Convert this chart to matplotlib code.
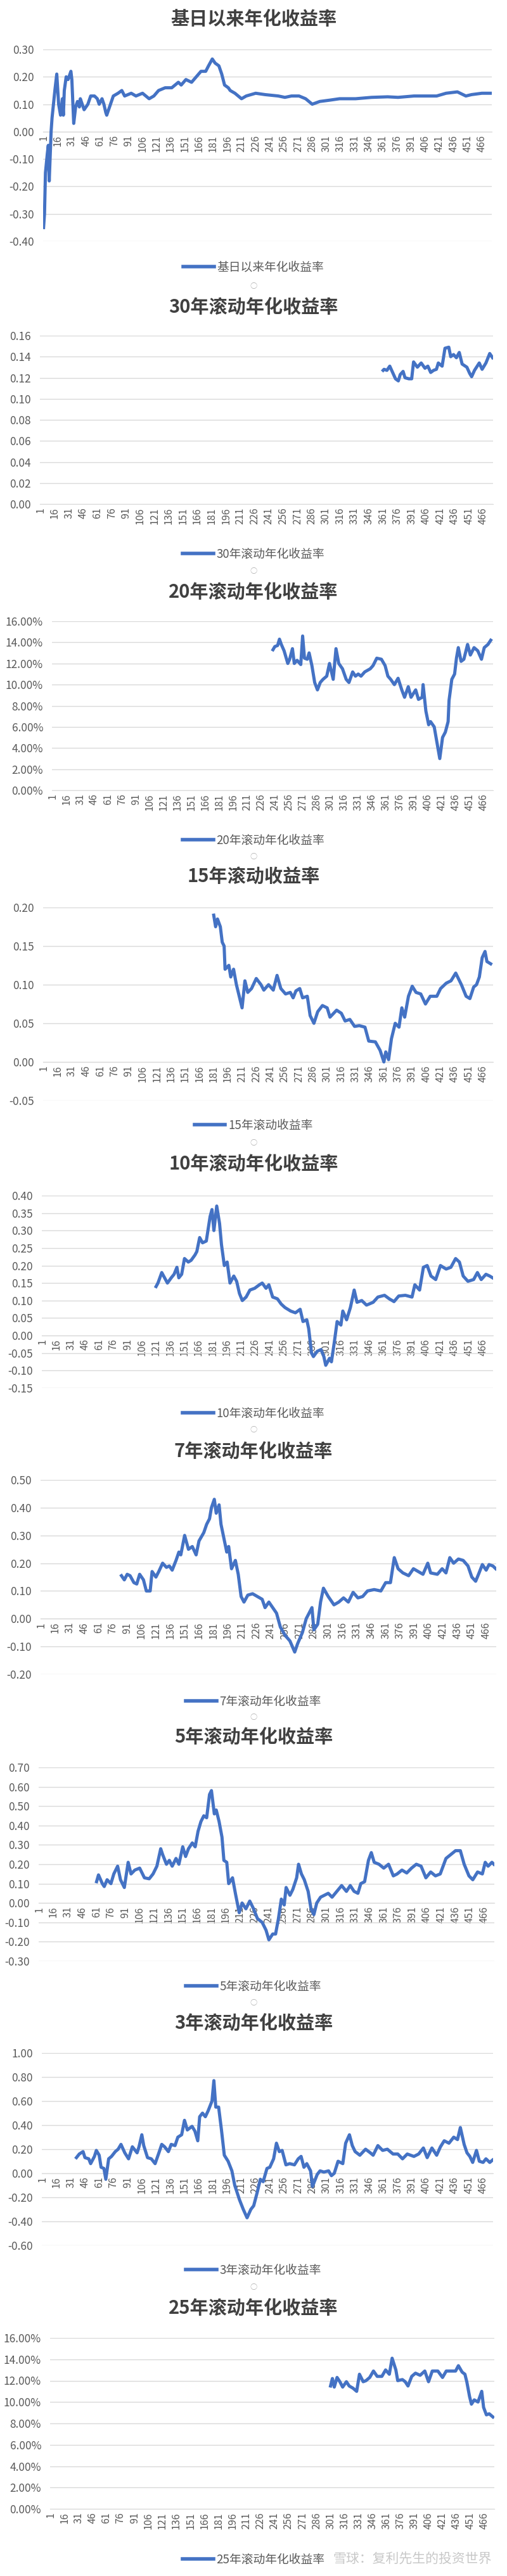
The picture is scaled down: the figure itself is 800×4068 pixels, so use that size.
import matplotlib
matplotlib.use('Agg')
import matplotlib.pyplot as plt
from matplotlib.ticker import FuncFormatter
from matplotlib.lines import Line2D

plt.rcParams['font.family'] = ['Noto Sans CJK SC', 'DejaVu Sans']

W, H = 800, 4068
N = 476
BLUE = '#4472C4'
GRID = '#D9D9D9'
TXT = '#595959'

# 基日以来年化收益率
since_idx = [1,2,3,5,6,7,9,10,13,15,17,19,21,22,23,25,27,30,31,33,35,37,39,40,42,44,48,51,55,58,
             60,63,65,67,68,72,75,80,84,87,94,99,106,113,118,123,130,137,144,147,152,158,163,168,173,176,180,183,187,190,
             193,197,199,204,211,216,226,236,250,257,264,272,279,286,294,305,315,332,349,366,377,394,408,418,428,440,449,455,466,475]
since_val = [-0.35,-0.30,-0.15,-0.08,-0.05,-0.18,0.00,0.05,0.15,0.21,0.10,0.06,0.12,0.06,0.15,0.20,0.19,0.22,0.19,0.03,
             0.09,0.11,0.09,0.12,0.10,0.08,0.10,0.13,0.13,0.12,0.10,0.12,0.10,0.07,0.06,0.10,0.13,0.14,0.15,0.13,
             0.14,0.13,0.14,0.12,0.13,0.15,0.16,0.16,0.18,0.17,0.19,0.18,0.20,0.22,0.22,0.24,0.265,0.25,0.24,0.21,
             0.17,0.16,0.15,0.14,0.12,0.13,0.14,0.135,0.13,0.125,0.13,0.13,0.12,0.10,0.11,0.115,0.12,0.12,0.125,0.127,
             0.125,0.13,0.13,0.13,0.14,0.145,0.13,0.135,0.14,0.14]

# 30年
y30_idx = [361,362,365,368,371,374,377,379,382,384,388,391,393,397,401,405,408,411,414,417,
           419,423,426,430,432,435,438,441,444,449,452,454,457,462,465,469,473,476]
y30_val = [0.127,0.128,0.127,0.131,0.125,0.119,0.117,0.123,0.126,0.120,0.119,0.119,0.135,0.130,0.134,0.129,0.131,0.125,0.127,0.128,
           0.134,0.131,0.148,0.149,0.140,0.142,0.139,0.144,0.133,0.130,0.124,0.121,0.127,0.134,0.128,0.134,0.143,0.139]

# 20年 (%)
y20_idx = [239,241,244,246,248,251,255,257,260,262,265,269,271,273,276,278,281,284,287,290,
           293,297,300,304,307,310,314,318,321,325,328,331,334,338,344,347,351,356,360,363,
           366,370,374,378,381,385,388,393,396,400,401,404,407,409,413,416,419,422,425,428,
           429,432,435,437,439,442,445,449,452,456,460,464,467,471,474]
y20_val = [13.3,13.6,13.7,14.3,13.8,13.2,12.0,12.4,13.4,12.0,12.3,11.9,14.6,12.5,12.4,13.0,11.8,10.2,9.5,10.2,
           10.5,10.8,12.0,10.5,13.4,12.0,11.5,10.5,10.2,11.2,10.8,11.0,10.8,11.2,11.5,11.8,12.5,12.4,11.8,10.8,
           10.5,10.0,10.6,9.5,8.8,9.8,8.8,9.5,8.6,8.8,10.0,7.5,6.2,6.5,6.0,4.5,3.0,5.0,5.5,6.5,
           8.5,10.5,11.0,12.5,13.5,12.2,12.4,13.8,12.8,13.5,13.2,12.4,13.5,13.8,14.2]

# 15年
y15_idx = [181,183,185,188,190,192,193,197,199,202,205,208,211,214,217,221,226,231,234,239,
           244,248,252,257,262,265,268,272,275,280,283,287,291,296,301,304,311,316,320,325,
           330,335,341,345,352,357,361,363,366,369,373,377,380,383,387,391,395,400,405,410,
           417,421,427,432,437,443,448,452,456,459,462,465,468,470,474]
y15_val = [0.19,0.175,0.185,0.175,0.155,0.15,0.12,0.125,0.11,0.12,0.10,0.085,0.07,0.105,0.09,0.095,0.108,0.10,0.093,0.10,
           0.093,0.112,0.095,0.088,0.09,0.083,0.092,0.095,0.083,0.085,0.06,0.05,0.065,0.073,0.07,0.058,0.067,0.063,0.053,0.055,
           0.046,0.047,0.045,0.027,0.026,0.015,0.0,0.013,0.003,0.03,0.05,0.045,0.07,0.058,0.085,0.098,0.09,0.088,0.075,0.085,
           0.085,0.095,0.102,0.105,0.115,0.10,0.085,0.082,0.097,0.10,0.11,0.135,0.143,0.13,0.127]

# 10年
y10_idx = [121,123,127,130,133,137,140,143,145,148,151,155,158,162,164,167,170,174,178,180,
           182,185,188,190,193,196,199,203,206,209,212,216,220,225,230,233,237,240,244,249,
           253,257,263,268,273,276,280,282,285,287,291,295,298,300,304,306,309,312,316,318,
           322,326,330,333,338,343,350,355,362,367,372,377,384,391,394,399,403,407,411,416,
           421,427,432,437,441,445,450,456,460,464,469,473,476]
y10_val = [0.14,0.15,0.18,0.165,0.15,0.165,0.175,0.195,0.165,0.175,0.22,0.21,0.215,0.23,0.24,0.28,0.265,0.27,0.34,0.36,
           0.30,0.37,0.32,0.26,0.20,0.21,0.15,0.17,0.155,0.12,0.10,0.11,0.13,0.135,0.145,0.15,0.135,0.145,0.11,0.105,
           0.09,0.08,0.07,0.065,0.075,0.04,0.045,0.02,-0.05,-0.06,-0.045,-0.04,-0.06,-0.085,-0.065,-0.075,-0.02,0.04,0.03,0.07,
           0.045,0.08,0.13,0.095,0.10,0.087,0.095,0.11,0.115,0.105,0.097,0.113,0.115,0.11,0.145,0.13,0.195,0.20,0.17,0.16,
           0.20,0.19,0.195,0.22,0.21,0.17,0.155,0.16,0.18,0.16,0.175,0.17,0.165]

# 7年
y7_idx = [85,88,91,94,98,101,104,108,111,115,117,121,124,128,132,135,138,142,145,147,
          151,155,159,163,166,171,174,177,179,182,184,187,189,192,195,197,200,204,207,210,
          213,217,222,227,232,235,239,244,247,251,256,261,266,269,274,278,281,284,286,290,
          293,296,301,307,312,317,322,327,332,337,342,349,356,361,366,370,374,379,385,390,
          395,400,405,408,415,420,424,428,432,437,442,447,451,455,458,462,466,469,473,476]
y7_val = [0.155,0.14,0.16,0.155,0.13,0.125,0.16,0.14,0.10,0.10,0.17,0.15,0.17,0.20,0.185,0.19,0.175,0.21,0.24,0.23,
          0.30,0.25,0.26,0.23,0.28,0.31,0.34,0.36,0.40,0.43,0.38,0.41,0.34,0.29,0.24,0.26,0.18,0.21,0.16,0.08,
          0.06,0.085,0.09,0.08,0.07,0.04,0.06,0.035,0.02,-0.03,-0.06,-0.08,-0.12,-0.09,-0.05,0.0,0.02,0.04,-0.04,-0.02,
          0.06,0.11,0.08,0.05,0.06,0.075,0.06,0.095,0.075,0.08,0.10,0.105,0.10,0.13,0.13,0.22,0.18,0.165,0.155,0.18,
          0.17,0.16,0.20,0.165,0.16,0.18,0.165,0.22,0.20,0.215,0.21,0.19,0.15,0.135,0.16,0.195,0.175,0.195,0.19,0.18]

# 5年
y5_idx = [61,63,67,69,72,76,79,83,86,90,94,97,101,106,111,116,120,124,128,130,
          134,137,140,144,147,151,154,157,161,164,167,170,173,176,179,181,184,186,189,192,
          194,197,199,203,206,210,213,217,221,225,229,234,238,241,245,248,251,254,257,259,
          263,266,270,272,275,278,282,285,288,291,295,299,303,307,312,317,322,326,330,334,
          337,341,345,348,351,356,361,366,371,375,380,385,390,395,400,405,410,415,420,426,
          431,436,441,445,450,454,459,464,467,470,474,476]
y5_val = [0.11,0.145,0.10,0.085,0.12,0.10,0.15,0.19,0.12,0.08,0.21,0.15,0.17,0.18,0.13,0.125,0.15,0.19,0.28,0.25,
          0.20,0.22,0.19,0.23,0.20,0.29,0.24,0.28,0.31,0.29,0.37,0.42,0.45,0.44,0.56,0.58,0.46,0.48,0.42,0.34,
          0.22,0.21,0.10,0.13,0.05,-0.05,0.0,-0.03,0.01,-0.03,-0.08,-0.10,-0.14,-0.19,-0.16,-0.16,-0.08,0.02,-0.01,0.08,
          0.04,0.07,0.13,0.20,0.15,0.12,0.06,-0.03,-0.06,0.0,0.03,0.04,0.05,0.03,0.06,0.09,0.06,0.09,0.06,0.05,
          0.10,0.11,0.22,0.26,0.21,0.20,0.18,0.20,0.14,0.15,0.17,0.155,0.18,0.20,0.19,0.13,0.16,0.14,0.15,0.23,
          0.25,0.27,0.27,0.20,0.14,0.12,0.16,0.15,0.21,0.19,0.21,0.20]

# 3年
y3_idx = [37,40,44,46,50,52,56,58,61,63,66,68,71,74,78,81,84,88,92,96,
          101,103,106,108,112,116,120,124,127,130,134,137,141,144,148,151,154,159,162,165,
          167,170,173,176,180,182,184,187,190,193,197,201,204,209,213,217,221,224,228,231,
          234,238,241,245,248,251,254,258,262,267,271,274,277,280,284,286,291,294,298,303,
          306,309,313,318,321,325,328,331,336,342,347,350,355,360,365,371,376,381,386,393,
          398,403,407,412,417,421,425,430,435,439,442,446,449,452,455,459,462,466,469,473,476]
y3_val = [0.13,0.16,0.18,0.13,0.12,0.08,0.14,0.19,0.15,0.05,0.04,-0.05,0.12,0.14,0.18,0.20,0.24,0.17,0.12,0.22,
          0.17,0.22,0.32,0.23,0.13,0.12,0.08,0.17,0.24,0.22,0.18,0.24,0.23,0.30,0.32,0.44,0.36,0.39,0.35,0.27,
          0.47,0.50,0.47,0.52,0.60,0.77,0.55,0.55,0.36,0.15,0.10,0.02,-0.10,-0.22,-0.30,-0.37,-0.30,-0.27,-0.15,-0.05,
          -0.07,0.04,0.05,0.12,0.25,0.18,0.19,0.07,0.08,0.07,0.12,0.14,0.05,0.08,0.02,-0.11,-0.01,0.02,0.01,0.02,
          -0.02,0.0,0.10,0.08,0.25,0.32,0.23,0.18,0.15,0.20,0.17,0.15,0.23,0.19,0.20,0.16,0.16,0.12,0.16,0.14,
          0.16,0.21,0.13,0.21,0.15,0.22,0.27,0.25,0.30,0.28,0.38,0.24,0.17,0.14,0.09,0.19,0.10,0.09,0.12,0.09,0.11]

# 25年 (%)
y25_idx = [301,303,305,308,311,314,318,321,325,329,332,336,339,343,347,351,356,360,364,367,
           371,373,378,381,384,388,392,397,402,406,410,416,421,425,430,435,438,442,445,447,
           450,452,455,459,463,465,468,471,475]
y25_val = [11.5,12.2,11.4,12.3,11.9,11.4,11.9,11.5,11.3,11.0,12.6,11.9,12.0,12.3,12.9,12.4,12.4,13.0,12.6,14.1,
           13.0,12.0,12.1,11.9,11.5,12.4,12.7,12.5,12.9,11.9,12.9,12.9,12.3,12.9,12.9,12.9,13.4,12.8,12.6,11.9,
           10.5,9.8,10.2,10.0,11.0,9.5,8.8,8.9,8.6]

xtick_pos = list(range(1, N + 1, 15))

fig = plt.figure(figsize=(W / 100, H / 100), dpi=100)
fig.patch.set_facecolor('white')


def draw_panel(title, label, idx, val, box, ylo, yhi, step, fmt, title_y, legend_y):
    left, top, right, bottom = box
    ax = fig.add_axes([left / W, 1 - bottom / H, (right - left) / W, (bottom - top) / H])
    # 横轴放在 0 的位置（先设，否则会重置刻度）
    for s in ['top', 'right', 'left']:
        ax.spines[s].set_visible(False)
    ax.spines['bottom'].set_position(('data', 0))
    ax.spines['bottom'].set_color(GRID)
    ax.plot(idx, val, color=BLUE, lw=3.6, zorder=3, solid_joinstyle='round')
    ax.set_xlim(0.5, N + 0.5)
    ax.set_ylim(ylo, yhi)
    nt = int(round((yhi - ylo) / step))
    ax.set_yticks([ylo + k * step for k in range(nt + 1)])
    ax.yaxis.set_major_formatter(FuncFormatter(lambda v, p: fmt % v))
    ax.set_xticks(xtick_pos)
    ax.set_xticklabels([str(t) for t in xtick_pos])
    ax.grid(axis='y', color=GRID, lw=1)
    ax.set_axisbelow(True)
    ax.tick_params(axis='x', length=0, pad=4, labelsize=11.5, labelcolor=TXT, labelrotation=90)
    ax.tick_params(axis='y', length=0, pad=10, labelsize=12.5 if '%' in fmt else 13.5, labelcolor=TXT)
    fig.text(0.5, 1 - title_y / H, title, ha='center', va='center',
             fontsize=21, fontweight='bold', color='#404040')
    h = Line2D([], [], color=BLUE, lw=4)
    ax.legend([h], [label], loc='center', bbox_to_anchor=(0.5, 1 - legend_y / H),
              bbox_transform=fig.transFigure, frameon=False, fontsize=13.5,
              handlelength=2.6, handletextpad=0.25, labelcolor=TXT)
    return ax


draw_panel('基日以来年化收益率', '基日以来年化收益率', since_idx, since_val,
           (68, 78, 776, 381), -0.4, 0.3, 0.1, '%.2f', 30, 422)
draw_panel('30年滚动年化收益率', '30年滚动年化收益率', y30_idx, y30_val,
           (63, 530, 778, 796), 0.0, 0.16, 0.02, '%.2f', 485, 875)
draw_panel('20年滚动年化收益率', '20年滚动年化收益率', y20_idx, y20_val,
           (82, 981, 778, 1248), 0.0, 16.0, 2.0, '%.2f%%', 935, 1327)
draw_panel('15年滚动收益率', '15年滚动收益率', y15_idx, y15_val,
           (68, 1433, 778, 1738), -0.05, 0.20, 0.05, '%.2f', 1385, 1777)
draw_panel('10年滚动年化收益率', '10年滚动年化收益率', y10_idx, y10_val,
           (66, 1888, 778, 2192), -0.15, 0.40, 0.05, '%.2f', 1838, 2232)
draw_panel('7年滚动年化收益率', '7年滚动年化收益率', y7_idx, y7_val,
           (64, 2337, 783, 2644), -0.2, 0.5, 0.1, '%.2f', 2292, 2687)
draw_panel('5年滚动年化收益率', '5年滚动年化收益率', y5_idx, y5_val,
           (61, 2791, 780, 3097), -0.3, 0.7, 0.1, '%.2f', 2743, 3137)
draw_panel('3年滚动年化收益率', '3年滚动年化收益率', y3_idx, y3_val,
           (66, 3242, 778, 3546), -0.6, 1.0, 0.2, '%.2f', 3195, 3585)
draw_panel('25年滚动年化收益率', '25年滚动年化收益率', y25_idx, y25_val,
           (79, 3692, 780, 3962), 0.0, 16.0, 2.0, '%.2f%%', 3645, 4042)

# 图表之间的选择柄
for yb in [452, 902, 1353, 1805, 2258, 2712, 3163, 3612]:
    fig.text(0.5, 1 - yb / H, '○', ha='center', va='center', fontsize=8, color='#A6A6A6')

# 水印
fig.text(776 / W, 1 - 4042 / H, '雪球：复利先生的投资世界', ha='right', va='center',
         fontsize=15, color='#C8C8C8')

fig.savefig('out.png', dpi=100, facecolor='white')
